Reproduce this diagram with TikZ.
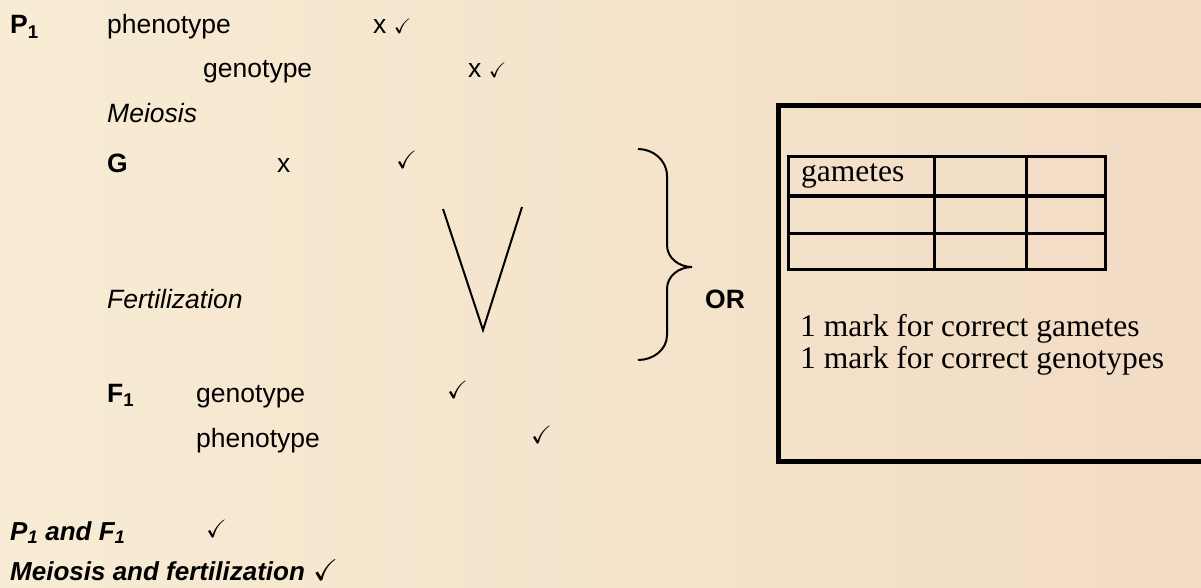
\documentclass[tikz,border=0pt]{standalone}
\usepackage{amssymb}
\usepackage{fontspec}
\setmainfont{Liberation Sans}
\newfontfamily\timesfont{Liberation Serif}
\usepackage{tikz}
\newcommand{\smallchk}{{\fontsize{21}{21}\selectfont$\checkmark$}}
\definecolor{paperlight}{RGB}{248,236,212}
\definecolor{paperdark}{RGB}{242,219,196}
\tikzset{
  txt/.style={anchor=base west,inner sep=0pt,font=\fontsize{26.5}{30}\selectfont},
  bold/.style={txt,font=\fontsize{26.5}{30}\selectfont\bfseries},
  ital/.style={txt,font=\fontsize{26.5}{30}\selectfont\itshape},
  boldit/.style={txt,font=\fontsize{26}{30}\selectfont\bfseries\itshape},
  serif/.style={anchor=base west,inner sep=0pt,font=\timesfont\fontsize{31.5}{33}\selectfont},
  chk/.style={anchor=base west,inner sep=0pt,font=\fontsize{25}{25}\selectfont}
}

\begin{document}
\begin{tikzpicture}[x=1pt,y=-1pt]
\shade[left color=paperlight,right color=paperdark] (0,0) rectangle (1201,588);
\useasboundingbox (0,0) rectangle (1201,588);

% parents
\node[bold] (p1) at (10,34) {P\textsubscript{1}};
\node[txt] (pheno1) at (107,34) {phenotype};
\node[txt] (cross1) at (373,34) {x \smallchk};
\node[txt] (geno1) at (203,78) {genotype};
\node[txt] (cross2) at (468,78) {x \smallchk};

% gametes
\node[ital] (meio) at (107,123) {Meiosis};
\node[bold] (g) at (107,172) {G};
\node[txt] (gx) at (277,172) {x};
\node[chk] (gchk) at (396,168) {$\checkmark$};
\draw[line width=2pt] (443,209) -- (483,330) -- (522,207);
\node[ital] (fert) at (107,308) {Fertilization};

% offspring
\node[bold] (f1) at (107,402) {F\textsubscript{1}};
\node[txt] (geno2) at (196,402) {genotype};
\node[chk] (genochk) at (447,398) {$\checkmark$};
\node[txt] (pheno2) at (196,447) {phenotype};
\node[chk] (phenochk) at (531,443) {$\checkmark$};

% brace
\draw[line width=2pt] (638,149) to[out=0,in=90] (667,176) -- (667,245)
  to[out=-90,in=180] (692,267) to[out=180,in=90] (667,289) -- (667,335)
  to[out=-90,in=0] (638,360);
\node[bold] (or) at (705,308) {OR};

% punnett box
\draw[line width=5pt] (1205,105.5) -| (778.5,461.5) -- (1205,461.5);
\foreach \x in {788,934.5,1026,1105}
  \draw[line width=3pt] (\x,156.5) -- (\x,269.5);
\foreach \y in {156.5,196,233,269.5}
  \draw[line width=3pt] (786.5,\y) -- (1106.5,\y);
\node[serif] (gam) at (801,182) {gametes};
\node[serif] (mk1) at (800,336) {1 mark for correct gametes};
\node[serif] (mk2) at (800,368) {1 mark for correct genotypes};

% marks
\node[boldit] (pf) at (10,540) {P\textsubscript{1} and F\textsubscript{1}};
\node[chk] (pfchk) at (206,537) {$\checkmark$};
\node[boldit] (mf) at (10,580) {Meiosis and fertilization};
\node[chk,font=\fontsize{30}{30}\selectfont] (mfchk) at (313,580) {$\checkmark$};
\end{tikzpicture}
\end{document}
